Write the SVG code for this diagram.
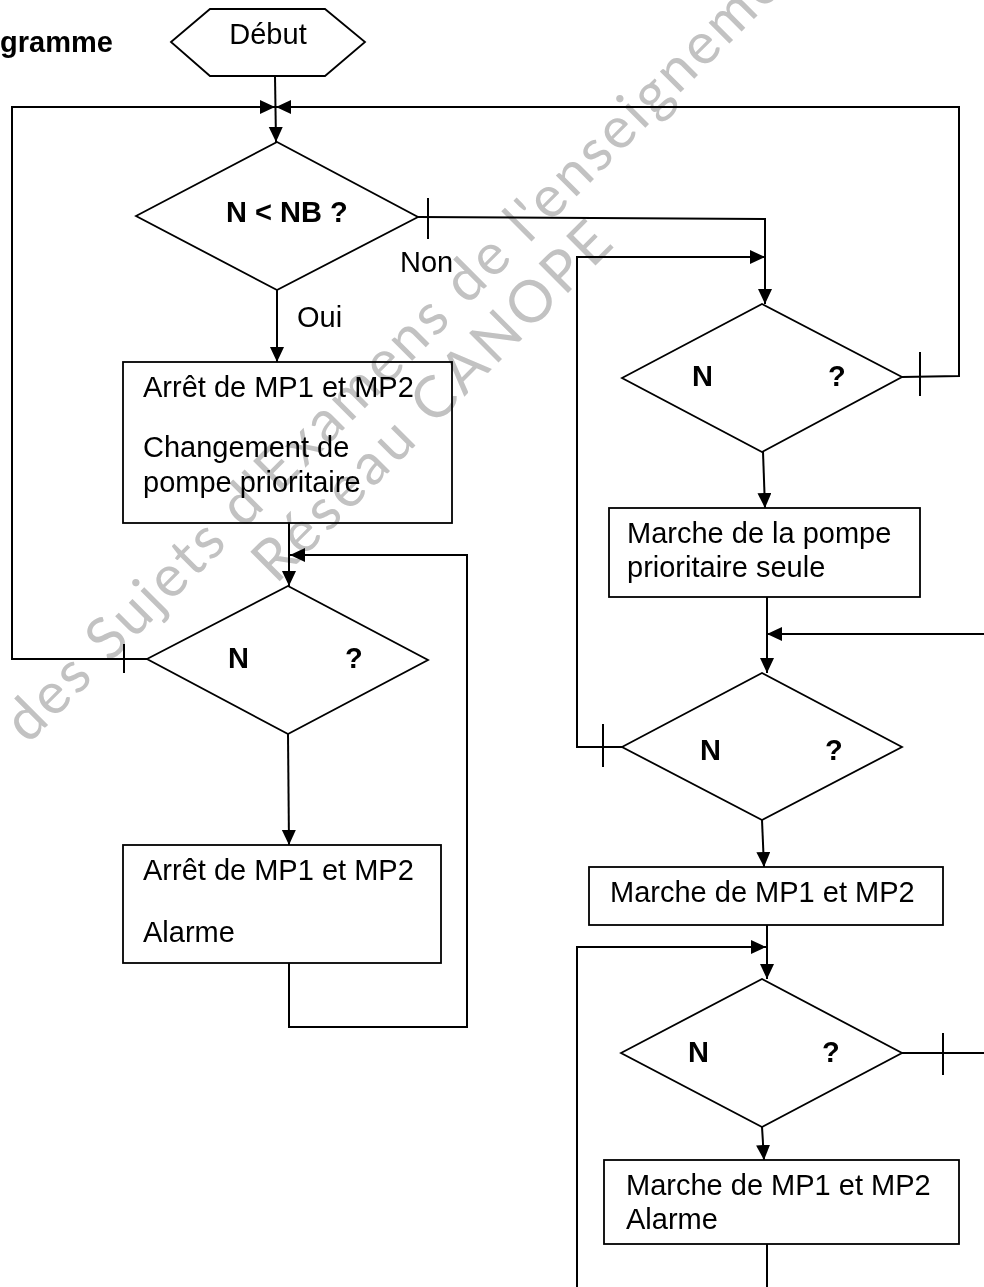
<svg xmlns="http://www.w3.org/2000/svg" width="984" height="1287" viewBox="0 0 984 1287">
<style>
  .shape { fill: #ffffff; stroke: #000000; stroke-width: 1.8; }
  .conn { fill: none; stroke: #000000; stroke-width: 2; }
  .tick { stroke: #000000; stroke-width: 2; }
  .t { font-family: "Liberation Sans", Arial, sans-serif; font-size: 29px; fill: #000000; }
  .b { font-family: "Liberation Sans", Arial, sans-serif; font-size: 29px; font-weight: bold; fill: #000000; }
  .wm { font-family: Lato, "Open Sans", "DejaVu Sans", sans-serif; font-weight: 400; font-size: 58px; fill: #c2c2c2; mix-blend-mode: multiply; }
</style>
<defs>
  <marker id="arr" markerUnits="userSpaceOnUse" markerWidth="16" markerHeight="16" refX="15" refY="7" orient="auto">
    <path d="M0,0 L15,7 L0,14 Z" fill="#000000"/>
  </marker>
</defs>
<rect x="0" y="0" width="984" height="1287" fill="#ffffff"/>

<text class="b" x="0" y="52" font-size="27.5">gramme</text>

<g id="connectors">
  <path class="conn" d="M275,76 L276,142" marker-end="url(#arr)"/>
  <path class="conn" d="M147,659 L12,659 L12,107 L275,107" marker-end="url(#arr)"/>
  <path class="conn" d="M902,377 L959,376 L959,107 L276,107" marker-end="url(#arr)"/>
  <path class="conn" d="M277,290 L277,362" marker-end="url(#arr)"/>
  <path class="conn" d="M289,523 L289,586" marker-end="url(#arr)"/>
  <path class="conn" d="M289,963 L289,1027 L467,1027 L467,555 L290,555" marker-end="url(#arr)"/>
  <path class="conn" d="M288,734 L289,845" marker-end="url(#arr)"/>
  <path class="conn" d="M418,217 L765,219 L765,304" marker-end="url(#arr)"/>
  <path class="conn" d="M622,747 L577,747 L577,257 L765,257" marker-end="url(#arr)"/>
  <path class="conn" d="M763,452 L765,508" marker-end="url(#arr)"/>
  <path class="conn" d="M767,597 L767,673" marker-end="url(#arr)"/>
  <path class="conn" d="M984,634 L767,634" marker-end="url(#arr)"/>
  <path class="conn" d="M762,820 L764,867" marker-end="url(#arr)"/>
  <path class="conn" d="M767,925 L767,979" marker-end="url(#arr)"/>
  <path class="conn" d="M577,1287 L577,947 L766,947" marker-end="url(#arr)"/>
  <path class="conn" d="M902,1053 L984,1053"/>
  <path class="conn" d="M762,1127 L764,1160" marker-end="url(#arr)"/>
  <path class="conn" d="M767,1244 L767,1287"/>
  <line class="tick" x1="428" y1="198" x2="428" y2="239"/>
  <line class="tick" x1="124" y1="644" x2="124" y2="673"/>
  <line class="tick" x1="920" y1="352" x2="920" y2="396"/>
  <line class="tick" x1="603" y1="724" x2="603" y2="767"/>
  <line class="tick" x1="943" y1="1033" x2="943" y2="1075"/>
  <text class="t" x="400" y="272">Non</text>
  <text class="t" x="297" y="327">Oui</text>
</g>

<g id="debut">
  <polygon class="shape" points="171,42 210,9 325,9 365,42 325,76 210,76"/>
  <text class="t" x="268" y="44" text-anchor="middle">Début</text>
</g>

<g id="test-nb">
  <polygon class="shape" points="136,216 277,142 418,217 277,290"/>
  <text class="b" x="226" y="222">N &lt; NB ?</text>
</g>

<g id="arret-changement">
  <rect class="shape" x="123" y="362" width="329" height="161"/>
  <text class="t" x="143" y="397">Arrêt de MP1 et MP2</text>
  <text class="t" x="143" y="457">Changement de</text>
  <text class="t" x="143" y="492">pompe prioritaire</text>
</g>

<g id="test-left">
  <polygon class="shape" points="147,659 288,586 428,660 288,734"/>
  <text class="b" x="228" y="668">N</text>
  <text class="b" x="345" y="668">?</text>
</g>

<g id="arret-alarme">
  <rect class="shape" x="123" y="845" width="318" height="118"/>
  <text class="t" x="143" y="880">Arrêt de MP1 et MP2</text>
  <text class="t" x="143" y="942">Alarme</text>
</g>

<g id="test-r1">
  <polygon class="shape" points="622,378 762,304 902,377 762,452"/>
  <text class="b" x="692" y="386">N</text>
  <text class="b" x="828" y="386">?</text>
</g>

<g id="marche-prioritaire">
  <rect class="shape" x="609" y="508" width="311" height="89"/>
  <text class="t" x="627" y="543">Marche de la pompe</text>
  <text class="t" x="627" y="577">prioritaire seule</text>
</g>

<g id="test-r2">
  <polygon class="shape" points="622,747 762,673 902,747 762,820"/>
  <text class="b" x="700" y="760">N</text>
  <text class="b" x="825" y="760">?</text>
</g>

<g id="marche-mp1-mp2">
  <rect class="shape" x="589" y="867" width="354" height="58"/>
  <text class="t" x="610" y="902">Marche de MP1 et MP2</text>
</g>

<g id="test-r3">
  <polygon class="shape" points="621,1053 762,979 902,1053 762,1127"/>
  <text class="b" x="688" y="1062">N</text>
  <text class="b" x="822" y="1062">?</text>
</g>

<g id="marche-alarme">
  <rect class="shape" x="604" y="1160" width="355" height="84"/>
  <text class="t" x="626" y="1195">Marche de MP1 et MP2</text>
  <text class="t" x="626" y="1229">Alarme</text>
</g>

<g id="watermark">
  <text class="wm" transform="translate(28,745) rotate(-45)" x="0" y="0" textLength="1128" lengthAdjust="spacing">des Sujets d'Examens de l'enseignement</text>
  <text class="wm" transform="translate(276,585) rotate(-45)" x="0" y="0" textLength="480" lengthAdjust="spacing">Réseau CANOPE</text>
</g>
</svg>
